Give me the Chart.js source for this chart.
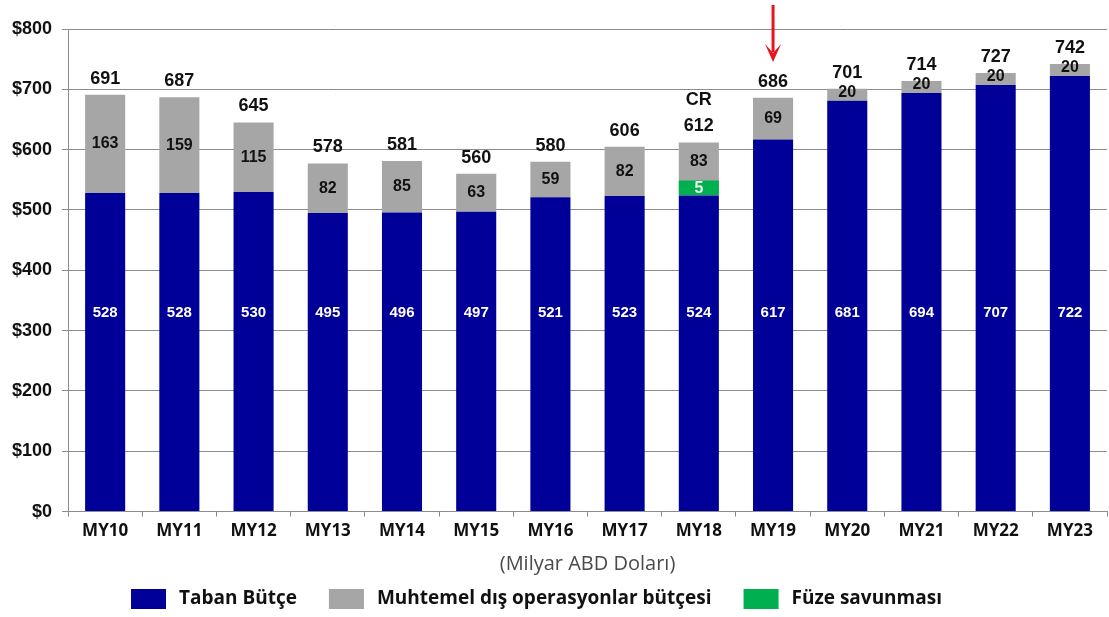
<!DOCTYPE html>
<html>
<head>
<meta charset="utf-8">
<script src="https://cdn.jsdelivr.net/npm/chart.js@4.4.1/dist/chart.umd.min.js"></script>
<style>
html,body{margin:0;padding:0;background:#fff;}
#wrap{width:1109px;height:617px;position:relative;}
</style>
</head>
<body>
<div id="wrap"><canvas id="c" width="1109" height="617"></canvas></div>
<script>
const categories = ['MY10','MY11','MY12','MY13','MY14','MY15','MY16','MY17','MY18','MY19','MY20','MY21','MY22','MY23'];
const baseBudget = [528,528,530,495,496,497,521,523,524,617,681,694,707,722];
const missileDefense = [0,0,0,0,0,0,0,0,5,0,0,0,0,0];
const ocoBudget = [163,159,115,82,85,63,59,82,83,69,20,20,20,20];
const totals = [691,687,645,578,581,560,580,606,612,686,701,714,727,742];
const totalPrefix = ['','','','','','','','','CR','','','','',''];
const yTicks = [0,100,200,300,400,500,600,700,800];
const legendOrder = [0, 2, 1];
const arrowIndex = 9;

const BLUE = '#000099', GRAY = '#A6A6A6', GREEN = '#00B050';
const NUM_FONT = '"Liberation Sans", Arial, sans-serif';

// segments built from the arrays above: missile on top of base, OCO on top of base + missile
const missileBars = missileDefense.map((v, i) => v ? [baseBudget[i], baseBudget[i] + v] : null);
const ocoBars = ocoBudget.map((v, i) => [baseBudget[i] + missileDefense[i], baseBudget[i] + missileDefense[i] + v]);

const labelPlugin = {
  id: 'labels',
  afterDatasetsDraw(chart) {
    const ctx = chart.ctx;
    const y = chart.scales.y;
    const mBase = chart.getDatasetMeta(0);
    const mMis = chart.getDatasetMeta(1);
    const mOco = chart.getDatasetMeta(2);
    ctx.save();
    ctx.textAlign = 'center';
    ctx.textBaseline = 'middle';
    categories.forEach((c, i) => {
      const b = mBase.data[i];
      ctx.fillStyle = '#fff';
      ctx.font = 'bold 15px ' + NUM_FONT;
      ctx.fillText(String(baseBudget[i]), b.x, y.getPixelForValue(330));
      const o = mOco.data[i];
      let lo = o.base;
      if (missileDefense[i]) {
        const m = mMis.data[i];
        ctx.fillStyle = '#f2fff2';
        ctx.font = 'bold 16px ' + NUM_FONT;
        ctx.fillText(String(missileDefense[i]), m.x, (m.y + m.base) / 2 + 1);
        lo = Math.min(lo, m.y);
      }
      ctx.fillStyle = '#111';
      ctx.font = 'bold 16px ' + NUM_FONT;
      let oy = (o.y + lo) / 2;
      if (ocoBudget[i] <= 25) oy = o.y + 4;
      ctx.fillText(String(ocoBudget[i]), o.x, oy);
      ctx.font = 'bold 18px ' + NUM_FONT;
      const top = o.y;
      ctx.fillText(String(totals[i]), o.x, top - 16);
      if (totalPrefix[i]) ctx.fillText(totalPrefix[i], o.x, top - 42);
    });
    // red arrow
    const ax = mBase.data[arrowIndex].x;
    ctx.strokeStyle = '#E8141B';
    ctx.fillStyle = '#E8141B';
    ctx.lineWidth = 3;
    ctx.beginPath();
    ctx.moveTo(ax, 5);
    ctx.lineTo(ax, 52);
    ctx.stroke();
    ctx.beginPath();
    ctx.moveTo(ax - 8, 44);
    ctx.lineTo(ax, 62);
    ctx.lineTo(ax + 8, 44);
    ctx.lineTo(ax, 53);
    ctx.closePath();
    ctx.fill();
    ctx.restore();
  },
  afterDraw(chart) {
    const ctx = chart.ctx;
    const ds = chart.data.datasets;
    ctx.save();
    ctx.font = 'bold 19px "Open Sans", sans-serif';
    ctx.textBaseline = 'middle';
    ctx.textAlign = 'left';
    const boxW = 35, boxH = 20, gapBox = 13, gapItem = 32;
    const widths = legendOrder.map(k => boxW + gapBox + ctx.measureText(ds[k].label).width);
    const total = widths.reduce((a, b) => a + b, 0) + gapItem * (legendOrder.length - 1);
    let x = chart.width / 2 - 18 - total / 2;
    const cy = 599;
    legendOrder.forEach((k, j) => {
      ctx.fillStyle = ds[k].backgroundColor;
      ctx.fillRect(x, cy - boxH / 2, boxW, boxH);
      ctx.fillStyle = '#111';
      ctx.fillText(ds[k].label, x + boxW + gapBox, cy);
      x += widths[j] + gapItem;
    });
    ctx.restore();
  }
};

new Chart(document.getElementById('c'), {
  type: 'bar',
  data: {
    labels: categories,
    datasets: [
      { label: 'Taban Bütçe', data: baseBudget, backgroundColor: BLUE },
      { label: 'Füze savunması', data: missileBars, backgroundColor: GREEN, minBarLength: 15, grouped: false, stack: 'missile' },
      { label: 'Muhtemel dış operasyonlar bütçesi', data: ocoBars, backgroundColor: GRAY, grouped: false, stack: 'oco' }
    ]
  },
  options: {
    responsive: false,
    animation: false,
    events: [],
    layout: { padding: { top: 29, right: 2, left: 2, bottom: 41 } },
    datasets: { bar: { categoryPercentage: 1, barPercentage: 0.54, borderWidth: 0 } },
    scales: {
      x: {
        stacked: true,
        grid: { display: true, drawOnChartArea: false, drawTicks: true, tickLength: 5, color: '#8c8c8c', offset: true },
        border: { display: true, color: '#8c8c8c', width: 1 },
        ticks: { color: '#111', font: { family: '"Open Sans", sans-serif', size: 17, weight: 'bold' }, padding: 4, maxRotation: 0 },
        title: { display: true, text: '(Milyar ABD Doları)', color: '#4a4a4a', font: { family: '"Open Sans", sans-serif', size: 20 }, padding: { top: 7, bottom: 0 } }
      },
      y: {
        stacked: true,
        min: 0, max: 800,
        afterBuildTicks(axis) { axis.ticks = yTicks.map(v => ({ value: v })); },
        grid: { color: '#8c8c8c', tickLength: 6, lineWidth: 1 },
        border: { display: true, color: '#8c8c8c' },
        ticks: { color: '#111', font: { family: NUM_FONT, size: 18, weight: 'bold' }, padding: 10, callback: v => '$' + v }
      }
    },
    plugins: {
      tooltip: { enabled: false },
      legend: { display: false }
    }
  },
  plugins: [labelPlugin]
});
</script>
</body>
</html>
